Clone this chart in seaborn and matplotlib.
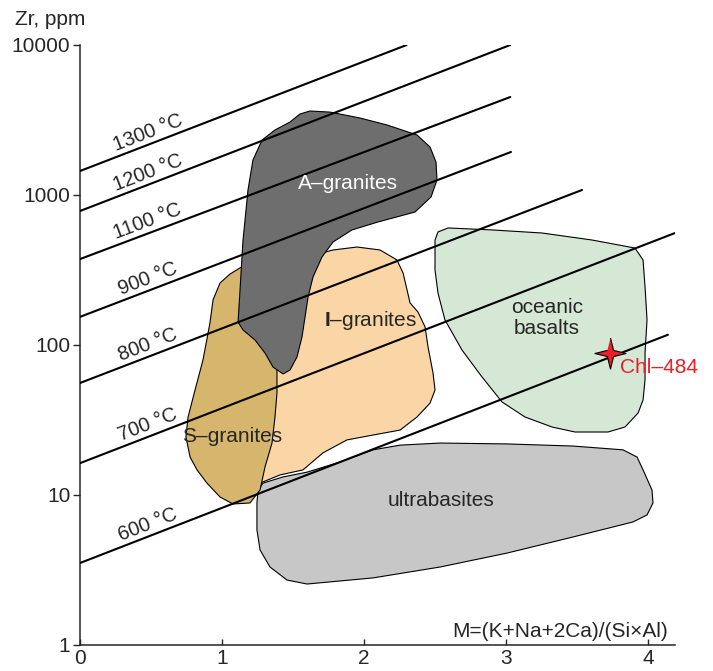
import numpy as np
import pandas as pd
import seaborn as sns
import matplotlib.pyplot as plt

# isotherms: Zr at M=0 and at the right end of each line
temps = ["600 °C", "700 °C", "800 °C", "900 °C", "1100 °C", "1200 °C", "1300 °C"]
zr_start = [3.52, 16.3, 55.8, 154, 374, 782, 1445]
m_end = [4.14, 4.19, 3.535, 3.035, 3.03, 3.03, 2.30]
zr_end = [117, 558, 1080, 1936, 4500, 10000, 10000]

# fields (M, Zr ppm)
a_gran_m = [1.620, 1.761, 1.972, 2.162, 2.373, 2.465, 2.507, 2.514, 2.472, 2.359, 2.099, 1.915,
            1.782, 1.704, 1.641, 1.606, 1.585, 1.563, 1.528, 1.479, 1.430, 1.359, 1.303, 1.232,
            1.148, 1.113, 1.127, 1.148, 1.183, 1.218, 1.282, 1.373, 1.479, 1.549]
a_gran_zr = [3630, 3570, 3260, 2930, 2512, 2089, 1660, 1259, 970, 770, 661, 585,
             486, 386, 284, 209, 154, 113, 83.2, 68.1, 64.1, 71.3, 88.4, 108,
             126, 142, 233, 501, 1080, 1711, 2326, 2713, 3066, 3467]

s_gran_m = [1.148, 1.056, 0.986, 0.937, 0.915, 0.866, 0.810, 0.761, 0.746, 0.775, 0.824, 0.894,
            0.986, 1.077, 1.197, 1.268, 1.303, 1.352, 1.373, 1.387, 1.387, 1.338, 1.268, 1.232]
s_gran_zr = [336, 297, 259, 200, 140, 79.4, 50.1, 33.1, 24.4, 17.9, 14.7, 12.0,
             9.70, 8.71, 8.85, 10.8, 15.4, 22.2, 33.1, 47.9, 68.1, 126, 233, 326]

i_gran_m = [1.782, 1.951, 2.113, 2.232, 2.275, 2.303, 2.324, 2.380, 2.430, 2.451, 2.486, 2.500,
            2.465, 2.373, 2.254, 2.063, 1.880, 1.711, 1.570, 1.408, 1.268, 1.282, 1.324, 1.338,
            1.408, 1.549, 1.676]
i_gran_zr = [430, 450, 430, 369, 302, 233, 191, 166, 132, 97.0, 65.0, 50.1,
             41.0, 33.1, 27.1, 25.1, 23.3, 19.1, 14.7, 13.6, 12.0, 23.3, 43.0, 79.4,
             200, 341, 404]

ocean_m = [2.521, 2.592, 2.901, 3.254, 3.606, 3.908, 3.965, 3.979, 3.993, 3.979, 3.979, 3.965,
           3.930, 3.838, 3.718, 3.486, 3.324, 3.134, 2.972, 2.831, 2.690, 2.570, 2.521, 2.500, 2.500]
ocean_zr = [567, 603, 585, 558, 501, 443, 369, 244, 147, 88.4, 58.5, 43.0,
            35.2, 28.4, 26.3, 26.3, 28.4, 33.1, 41.7, 61.2, 92.6, 147, 222, 316, 501]

ultra_m = [1.289, 1.430, 1.599, 1.831, 2.063, 2.254, 2.535, 3.007, 3.472, 3.824, 3.923, 3.965,
           4.028, 4.035, 3.993, 3.894, 3.472, 3.007, 2.535, 2.063, 1.599, 1.458, 1.338, 1.268,
           1.246, 1.246, 1.254]
ultra_zr = [12.0, 13.2, 14.2, 16.6, 20.0, 21.5, 22.2, 21.9, 21.2, 20.0, 17.9, 14.7,
            10.8, 8.85, 7.36, 6.61, 5.25, 4.10, 3.31, 2.80, 2.55, 2.71, 3.31, 4.30,
            5.85, 8.85, 10.8]

sample_name = ["Chl–484"]
sample_m = [3.73]
sample_zr = [88.5]

sns.set_style("ticks")
plt.rcParams['font.family'] = ['Liberation Sans', 'DejaVu Sans']
plt.rcParams['mathtext.fontset'] = 'custom'
plt.rcParams['mathtext.rm'] = 'Liberation Sans'
plt.rcParams['mathtext.bf'] = 'Liberation Sans:bold'

fig = plt.figure(figsize=(7.13, 6.71), dpi=100)
ax = fig.add_axes([80 / 713, 26 / 671, 595 / 713, 600 / 671])
ax.set_yscale('log')
ax.set_xlim(0, 4.19)
ax.set_ylim(1, 10000)

# fields, back to front
ax.fill(ultra_m, ultra_zr, facecolor='#c6c7c6', edgecolor='black', lw=0.8, zorder=1)
ax.fill(i_gran_m, i_gran_zr, facecolor='#fad5a6', edgecolor='black', lw=0.8, zorder=2)
ax.fill(s_gran_m, s_gran_zr, facecolor='#d6b56c', edgecolor='black', lw=0.8, zorder=3)
ax.fill(a_gran_m, a_gran_zr, facecolor='#6e6e6e', edgecolor='black', lw=0.8, zorder=4)
ax.fill(ocean_m, ocean_zr, facecolor='#d5e8d6', edgecolor='black', lw=0.8, zorder=4)

# isotherm lines
iso = pd.DataFrame({
    'T': np.repeat(temps, 2),
    'M': np.ravel([[0, m] for m in m_end]),
    'Zr': np.ravel([[a, b] for a, b in zip(zr_start, zr_end)]),
})
sns.lineplot(data=iso, x='M', y='Zr', units='T', estimator=None, color='black',
             lw=1.5, ax=ax, zorder=5)

# isotherm labels, rotated along the lines
for t, z0, m1, z1 in zip(temps, zr_start, m_end, zr_end):
    p0 = ax.transData.transform((0, z0))
    p1 = ax.transData.transform((m1, z1))
    ang = np.degrees(np.arctan2(p1[1] - p0[1], p1[0] - p0[0]))
    lm = 0.5
    lz = 10 ** (np.log10(z0) + (np.log10(z1) - np.log10(z0)) * lm / m1)
    ax.annotate(t, (lm, lz), xytext=(0, 1.5), textcoords='offset points',
                rotation=ang, rotation_mode='anchor', ha='center', va='bottom',
                fontsize=14.5, zorder=6)

# field names
ax.text(1.887, 1202, "A–granites", color='white', fontsize=15, ha='center', va='center', zorder=6)
ax.text(2.042, 145, r"$\mathbf{I}$–granites", fontsize=15, ha='center', va='center', zorder=6)
ax.text(1.070, 24.4, "S–granites", fontsize=15, ha='center', va='center', zorder=6)
ax.text(3.289, 151, "oceanic\nbasalts", fontsize=15, ha='center', va='center',
        linespacing=1.15, zorder=6)
ax.text(2.542, 9.26, "ultrabasites", fontsize=15, ha='center', va='center', zorder=6)

# sample point
star = [(0, 1), (0.2, 0.2), (1, 0), (0.2, -0.2), (0, -1), (-0.2, -0.2), (-1, 0), (-0.2, 0.2)]
sns.scatterplot(x=sample_m, y=sample_zr, marker=star, s=500, color='#e8202a',
                edgecolor='black', linewidth=0.8, ax=ax, zorder=7, legend=False)
ax.text(sample_m[0] + 0.07, sample_zr[0] * 0.8, sample_name[0], color='#e8202a',
        fontsize=15, ha='left', va='center', zorder=7)

# axes styling
sns.despine(ax=ax)
for s in ['left', 'bottom']:
    ax.spines[s].set_linewidth(1.1)
ax.set_xticks([0, 1, 2, 3, 4])
ax.set_xticklabels(['0', '1', '2', '3', '4'])
ax.set_yticks([1, 10, 100, 1000, 10000])
ax.set_yticklabels(['1', '10', '100', '1000', '10000'])
ax.minorticks_off()
ax.tick_params(axis='x', direction='in', length=4, width=1, labelsize=15, pad=3)
ax.tick_params(axis='y', direction='out', length=5, width=1, labelsize=15, pad=2)
ax.set_xlabel('')
ax.set_ylabel('')
ax.text(-0.109, 1.042, "Zr, ppm", transform=ax.transAxes, fontsize=15, ha='left', va='center')
ax.text(0.988, 0.022, "M=(K+Na+2Ca)/(Si×Al)", transform=ax.transAxes, fontsize=15,
        ha='right', va='center')

fig.savefig("out.png", dpi=100)
